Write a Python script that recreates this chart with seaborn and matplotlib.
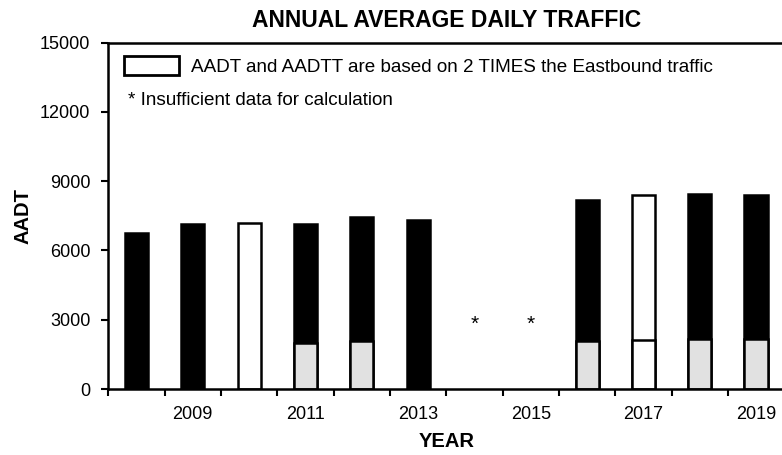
import numpy as np
import pandas as pd
import matplotlib
matplotlib.use("Agg")
import matplotlib.pyplot as plt
from matplotlib.patches import Patch
import seaborn as sns

# Data
years = [2008, 2009, 2010, 2011, 2012, 2013, 2014, 2015, 2016, 2017, 2018, 2019]
aadt = [6770, 7160, 7200, 7140, 7450, 7320, np.nan, np.nan, 8190, 8400, 8430, 8400]
aadtt = [np.nan, np.nan, np.nan, 1990, 2070, np.nan, np.nan, np.nan, 2060, 2120, 2170, 2170]
doubled_years = [2010, 2017]          # based on 2 x Eastbound traffic
missing_years = [2014, 2015]          # insufficient data
label_years = [2009, 2011, 2013, 2015, 2017, 2019]

sns.set_style("ticks")
plt.rcParams["font.family"] = ["Liberation Sans", "DejaVu Sans"]
for key in ["text.color", "axes.labelcolor", "xtick.color", "ytick.color"]:
    plt.rcParams[key] = "black"

df = pd.DataFrame({"year": [str(y) for y in years], "aadt": aadt, "aadtt": aadtt})
df["kind"] = np.where(pd.Series(years).isin(doubled_years), "doubled", "counted")
order = [str(y) for y in years]

fig = plt.figure(figsize=(7.82, 4.55), dpi=100)
ax = fig.add_axes([0.1385, 0.145, 0.8643, 0.7615])

# total AADT bars
sns.barplot(data=df.dropna(subset=["aadt"]), x="year", y="aadt", order=order, hue="kind",
            palette={"counted": "black", "doubled": "white"}, dodge=False, width=0.41,
            edgecolor="black", linewidth=1.8, legend=False, ax=ax)
# truck (AADTT) portion
sns.barplot(data=df.dropna(subset=["aadtt"]), x="year", y="aadtt", order=order, hue="kind",
            palette={"counted": "#e1e1e1", "doubled": "white"}, dodge=False, width=0.41,
            edgecolor="black", linewidth=1.8, legend=False, ax=ax)

# asterisks for years without data
for y in missing_years:
    ax.text(order.index(str(y)), 2550, "*", ha="center", va="baseline", fontsize=15)

ax.set_xlim(-0.5, len(years) - 0.5)
ax.set_ylim(0, 15000)
ax.set_yticks(np.arange(0, 15001, 3000))
ax.set_xticks(np.arange(-0.5, len(years), 1.0))
ax.set_xticklabels([])
ax.set_xticks([order.index(str(y)) for y in label_years], minor=True)
ax.set_xticklabels([str(y) for y in label_years], minor=True)
ax.tick_params(axis="x", which="minor", length=0, pad=12, labelsize=13)
ax.tick_params(axis="x", which="major", length=5, width=1.5, direction="out")
ax.tick_params(axis="y", length=5, width=1.5, direction="out", pad=8, labelsize=13)

for s in ax.spines.values():
    s.set_linewidth(1.8)
    s.set_color("black")

ax.set_xlabel("YEAR", fontsize=14.5, fontweight="bold", labelpad=7)
ax.set_ylabel("AADT", fontsize=14.5, fontweight="bold", labelpad=5)
ax.set_title("ANNUAL AVERAGE DAILY TRAFFIC", fontsize=16.5, fontweight="bold", pad=11)

ax.legend(handles=[Patch(facecolor="white", edgecolor="black", linewidth=2)],
          labels=["AADT and AADTT are based on 2 TIMES the Eastbound traffic"],
          loc="upper left", bbox_to_anchor=(0.0232, 0.961), frameon=False,
          borderpad=0, borderaxespad=0, handlelength=2.9, handleheight=1.16,
          handletextpad=0.66, fontsize=13.6)
ax.text(0.029, 0.832, "* Insufficient data for calculation", transform=ax.transAxes,
        ha="left", va="center", fontsize=13.6)

fig.savefig("out.png", dpi=100)
